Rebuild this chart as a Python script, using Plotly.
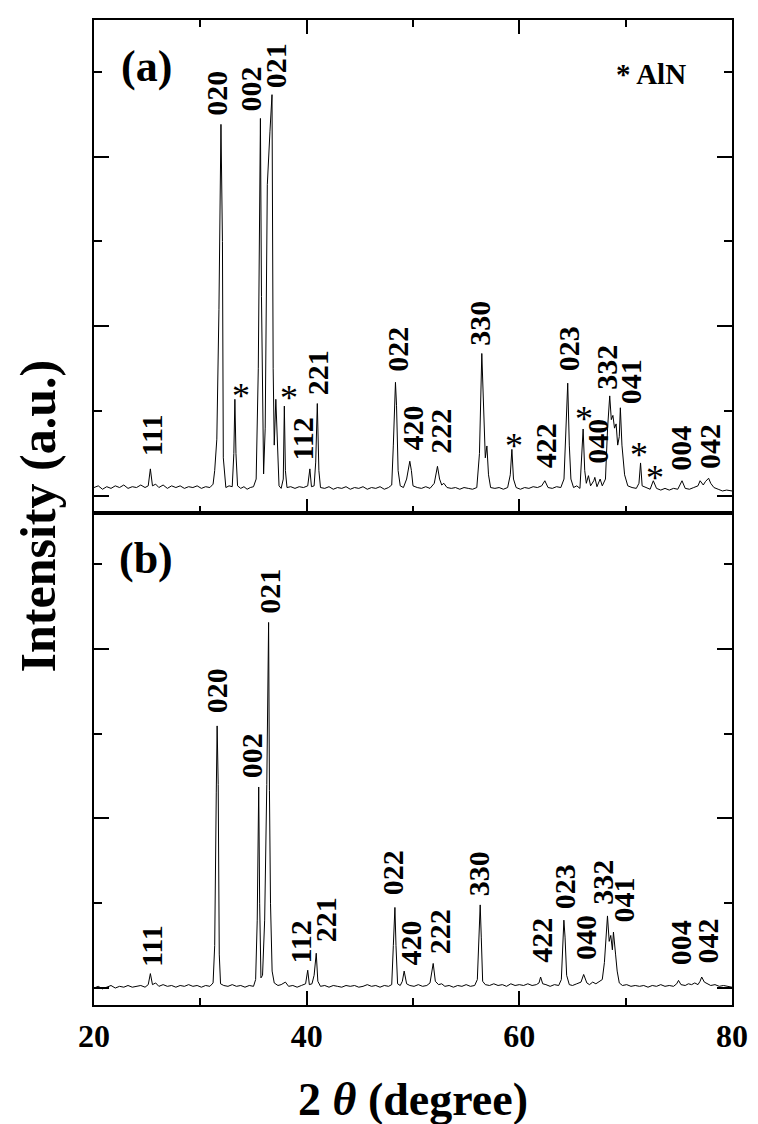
import plotly.graph_objects as go

# ---------------- data ----------------
# Panel (a): 2theta (deg) and intensity (a.u.)
two_theta_a = [20.0, 20.4, 20.8, 21.2, 21.6, 22.0, 22.4, 22.8, 23.2, 23.6, 24.0, 24.4, 24.8, 25.1, 25.3, 25.5,
               25.8, 26.1, 26.5, 26.9, 27.3, 27.7, 28.1, 28.5, 28.9, 29.3, 29.7, 30.1, 30.5, 30.9, 31.2, 31.35,
               31.55, 31.75, 31.94, 32.02, 32.08, 32.16, 32.4, 32.7, 33.0, 33.15, 33.25, 33.35, 33.5, 33.8,
               34.1, 34.4, 34.7, 35.0, 35.25, 35.45, 35.55, 35.65, 35.75, 35.85, 35.95, 36.1, 36.3, 36.55,
               36.74, 36.85, 36.95, 37.1, 37.25, 37.4, 37.6, 37.8, 37.9, 38.0, 38.15, 38.5, 38.9, 39.3, 39.7,
               40.1, 40.3, 40.45, 40.7, 40.85, 41.0, 41.15, 41.3, 41.7, 42.1, 42.5, 42.9, 43.3, 43.7, 44.1,
               44.5, 44.9, 45.3, 45.7, 46.1, 46.5, 46.9, 47.3, 47.7, 48.0, 48.15, 48.35, 48.45, 48.6, 48.8,
               49.1, 49.4, 49.7, 49.85, 50.0, 50.4, 50.8, 51.2, 51.6, 52.0, 52.3, 52.5, 52.7, 52.9, 53.2,
               53.6, 54.0, 54.4, 54.8, 55.2, 55.6, 56.0, 56.25, 56.47, 56.65, 56.8, 56.95, 57.1, 57.3, 57.7,
               58.1, 58.5, 58.9, 59.15, 59.3, 59.45, 59.7, 60.1, 60.5, 60.9, 61.3, 61.7, 62.1, 62.4, 62.7,
               63.1, 63.5, 63.9, 64.2, 64.4, 64.55, 64.7, 64.85, 65.1, 65.4, 65.7, 65.85, 66.0, 66.15, 66.3,
               66.5, 66.7, 67.0, 67.1, 67.3, 67.6, 67.8, 68.1, 68.3, 68.5, 68.65, 68.8, 68.95, 69.1, 69.25,
               69.4, 69.5, 69.65, 69.9, 70.2, 70.6, 71.0, 71.25, 71.4, 71.55, 71.9, 72.3, 72.6, 72.9, 73.3,
               73.7, 74.1, 74.5, 74.9, 75.3, 75.6, 76.0, 76.4, 76.8, 77.0, 77.3, 77.5, 77.8, 78.0, 78.3,
               78.7, 79.1, 79.5, 80.0]
intensity_a = [0.10, 0.12, 0.08, 0.11, 0.09, 0.12, 0.10, 0.13, 0.09, 0.11, 0.10, 0.13, 0.10, 0.12, 0.32, 0.12,
               0.14, 0.10, 0.13, 0.09, 0.12, 0.10, 0.12, 0.09, 0.11, 0.10, 0.12, 0.09, 0.11, 0.10, 0.14, 0.30,
               0.67, 2.20, 4.38, 3.50, 3.00, 0.45, 0.10, 0.12, 0.11, 0.50, 1.14, 0.50, 0.12, 0.09,
               0.11, 0.08, 0.10, 0.11, 0.20, 1.50, 3.30, 4.45, 2.35, 1.00, 0.26, 0.80, 3.67, 4.30,
               4.73, 1.50, 0.60, 1.14, 0.50, 0.12, 0.09, 0.20, 1.06, 0.30, 0.10, 0.11, 0.09, 0.11, 0.10,
               0.12, 0.32, 0.11, 0.12, 0.40, 1.09, 0.30, 0.10, 0.09, 0.11, 0.08, 0.10, 0.09, 0.11, 0.08,
               0.10, 0.09, 0.11, 0.08, 0.10, 0.09, 0.11, 0.08, 0.10, 0.13, 0.60, 1.34, 1.07, 0.30, 0.12,
               0.10, 0.20, 0.41, 0.30, 0.12, 0.10, 0.09, 0.11, 0.09, 0.15, 0.35, 0.20, 0.13, 0.15, 0.10,
               0.09, 0.10, 0.08, 0.10, 0.09, 0.08, 0.10, 0.50, 1.68, 0.92, 0.45, 0.59, 0.25, 0.10, 0.09,
               0.10, 0.08, 0.10, 0.25, 0.55, 0.20, 0.10, 0.08, 0.10, 0.09, 0.11, 0.10, 0.12, 0.18, 0.10,
               0.09, 0.11, 0.10, 0.20, 0.90, 1.33, 0.60, 0.20, 0.10, 0.12, 0.09, 0.40, 0.79, 0.30, 0.15,
               0.24, 0.12, 0.18, 0.22, 0.11, 0.20, 0.12, 0.20, 0.80, 1.18, 0.90, 0.95, 0.80, 0.85, 0.60,
               0.70, 1.04, 0.60, 0.25, 0.12, 0.10, 0.09, 0.15, 0.39, 0.12, 0.10, 0.08, 0.18, 0.09, 0.07,
               0.09, 0.07, 0.09, 0.08, 0.18, 0.09, 0.08, 0.10, 0.12, 0.18, 0.13, 0.17, 0.21, 0.15, 0.10,
               0.08, 0.06, 0.07, 0.06]

# Panel (b)
two_theta_b = [20.0, 20.4, 20.8, 21.2, 21.6, 22.0, 22.4, 22.8, 23.2, 23.6, 24.0, 24.4, 24.8, 25.1, 25.3, 25.5,
               25.8, 26.1, 26.5, 26.9, 27.3, 27.7, 28.1, 28.5, 28.9, 29.3, 29.7, 30.1, 30.5, 30.9, 31.2, 31.35,
               31.5, 31.58, 31.68, 31.78, 31.9, 32.2, 32.6, 33.0, 33.4, 33.8, 34.2, 34.6, 35.0, 35.2, 35.35,
               35.49, 35.58, 35.7, 35.85, 36.05, 36.25, 36.42, 36.5, 36.6, 36.75, 36.95, 37.3, 37.6, 38.0,
               38.3, 38.7, 39.1, 39.5, 39.9, 40.1, 40.25, 40.5, 40.7, 40.9, 41.05, 41.3, 41.7, 42.1, 42.5,
               42.9, 43.3, 43.7, 44.1, 44.5, 44.9, 45.3, 45.7, 46.1, 46.5, 46.9, 47.3, 47.7, 48.0, 48.15,
               48.3, 48.4, 48.55, 48.8, 49.0, 49.17, 49.4, 49.7, 50.1, 50.5, 50.9, 51.3, 51.6, 51.9, 52.1,
               52.4, 52.7, 53.0, 53.4, 53.8, 54.2, 54.6, 55.0, 55.4, 55.8, 56.05, 56.2, 56.32, 56.42, 56.55,
               56.8, 57.2, 57.6, 58.0, 58.4, 58.8, 59.2, 59.6, 60.0, 60.4, 60.8, 61.2, 61.6, 61.85, 62.0,
               62.2, 62.5, 62.9, 63.3, 63.7, 63.95, 64.1, 64.19, 64.3, 64.45, 64.7, 65.0, 65.4, 65.8, 66.05,
               66.35, 66.6, 66.9, 67.2, 67.5, 67.8, 68.0, 68.15, 68.29, 68.45, 68.6, 68.75, 68.85, 69.05,
               69.2, 69.4, 69.7, 70.1, 70.5, 70.9, 71.3, 71.7, 72.1, 72.5, 72.9, 73.3, 73.7, 74.1, 74.5,
               74.8, 74.97, 75.2, 75.6, 75.9, 76.2, 76.5, 76.8, 77.0, 77.15, 77.4, 77.7, 78.0, 78.4, 78.8,
               79.2, 79.6, 80.0]
intensity_b = [0.00, 0.02, -0.01, 0.01, 0.03, 0.00, 0.02, 0.01, 0.03, 0.01, 0.02, 0.03, 0.01, 0.04, 0.17, 0.04,
               0.06, 0.02, 0.04, 0.02, 0.03, 0.01, 0.03, 0.02, 0.04, 0.02, 0.03, 0.01, 0.03, 0.02, 0.06, 0.50,
               2.30, 3.09, 2.40, 0.40, 0.05, 0.03, 0.02, 0.04, 0.02, 0.03, 0.01, 0.03, 0.02, 0.10, 0.80,
               2.37, 1.00, 0.12, 0.15, 0.80, 2.40, 4.31, 2.33, 1.00, 0.20, 0.06, 0.03, 0.04, 0.07,
               0.02, 0.03, 0.01, 0.03, 0.05, 0.21, 0.04, 0.05, 0.15, 0.41, 0.08, 0.02, 0.03, 0.01, 0.03,
               0.02, 0.01, 0.03, 0.02, 0.03, 0.01, 0.02, 0.04, 0.02, 0.03, 0.01, 0.03, 0.02, 0.04, 0.50,
               0.95, 0.50, 0.05, 0.03, 0.08, 0.20, 0.05, 0.03, 0.02, 0.04, 0.02, 0.03, 0.06, 0.29, 0.08,
               0.04, 0.05, 0.02, 0.03, 0.01, 0.03, 0.02, 0.04, 0.02, 0.03, 0.10, 0.60, 0.98, 0.60, 0.08,
               0.04, 0.03, 0.05, 0.03, 0.04, 0.02, 0.05, 0.03, 0.04, 0.03, 0.05, 0.03, 0.04, 0.06, 0.13,
               0.05, 0.04, 0.02, 0.04, 0.03, 0.10, 0.60, 0.80, 0.60, 0.15, 0.04, 0.03, 0.05, 0.07, 0.16,
               0.06, 0.04, 0.07, 0.05, 0.08, 0.10, 0.30, 0.60, 0.85, 0.55, 0.62, 0.45, 0.66, 0.40,
               0.20, 0.06, 0.03, 0.04, 0.02, 0.03, 0.02, 0.03, 0.01, 0.03, 0.02, 0.04, 0.02, 0.03, 0.02,
               0.05, 0.09, 0.04, 0.03, 0.05, 0.04, 0.06, 0.04, 0.08, 0.13, 0.07, 0.05, 0.03, 0.04, 0.02,
               0.03, 0.02, 0.01]

# Peak (hkl) labels
labels_a = ["111", "020", "002", "021", "112", "221", "022", "420", "222", "330", "422", "023", "040",
            "332", "041", "004", "042"]
labels_b = ["111", "020", "002", "021", "112", "221", "022", "420", "222", "330", "422", "023", "040",
            "332", "041", "004", "042"]
# AlN impurity peaks in (a), marked with *
aln_peaks_a = [33.25, 37.9, 59.3, 66.0, 71.4, 72.6]

# ---------------- layout positions for text ----------------
lab_pos_a = [(25.41, 0.71), (31.57, 4.74), (34.74, 4.80), (37.07, 5.07), (39.59, 0.67), (41.08, 1.45),
             (48.54, 1.73), (49.94, 0.80), (52.56, 0.76), (56.29, 2.04), (62.54, 0.59), (64.59, 1.73),
             (67.39, 0.65), (68.13, 1.52), (70.47, 1.35), (75.13, 0.56), (77.93, 0.59)]
lab_pos_b = [(25.41, 0.49), (31.47, 3.51), (34.83, 2.74), (36.42, 4.68), (39.40, 0.54), (41.74, 0.80),
             (48.08, 1.36), (49.76, 0.53), (52.46, 0.66), (56.19, 1.35), (62.07, 0.56), (64.22, 1.19),
             (66.27, 0.59), (67.85, 1.25), (69.81, 1.04), (75.13, 0.53), (77.74, 0.56)]
star_pos_a = [(33.81, 1.18), (38.38, 1.16), (59.46, 0.59), (66.08, 0.91), (71.21, 0.48), (72.80, 0.21)]

FONT = "Liberation Serif"
# the page body has an 8px margin; the figure is sized/offset so the plot lands on the target pixels
OFF = 8
W, H = 758 - OFF, 1124 - OFF
L, R, T = 94 - OFF, 21, 18 - OFF
PW, PH = 643, 987
B = H - T - PH
split = (1005 - 512) / PH

fig = go.Figure()
fig.add_trace(go.Scatter(x=two_theta_a, y=intensity_a, xaxis="x2", yaxis="y2", mode="lines",
                         line=dict(color="black", width=1.0), showlegend=False, hoverinfo="skip"))
fig.add_trace(go.Scatter(x=two_theta_b, y=intensity_b, xaxis="x", yaxis="y", mode="lines",
                         line=dict(color="black", width=1.0), showlegend=False, hoverinfo="skip"))

ann = []
lab_font = dict(family=FONT, size=30, color="black", weight="bold")
for t, (xx, yy) in zip(labels_a, lab_pos_a):
    ann.append(dict(x=xx, y=yy, xref="x2", yref="y2", text=t, textangle=-90, showarrow=False,
                    font=lab_font, xanchor="center", yanchor="middle"))
for t, (xx, yy) in zip(labels_b, lab_pos_b):
    ann.append(dict(x=xx, y=yy, xref="x", yref="y", text=t, textangle=-90, showarrow=False,
                    font=lab_font, xanchor="center", yanchor="middle"))
for (xx, yy) in star_pos_a:
    ann.append(dict(x=xx, y=yy, xref="x2", yref="y2", text="*", showarrow=False,
                    font=dict(family=FONT, size=36, color="black"), xanchor="center", yanchor="middle"))

# convert absolute page pixels to paper coordinates
def px_x(p):
    return (p - 94) / PW

def px_y(p):
    return (1005 - p) / PH

ann.append(dict(x=px_x(147), y=px_y(65), xref="paper", yref="paper", text="(a)", showarrow=False,
                font=dict(family=FONT, size=44, color="black", weight="bold"), xanchor="center", yanchor="middle"))
ann.append(dict(x=px_x(146), y=px_y(558), xref="paper", yref="paper", text="(b)", showarrow=False,
                font=dict(family=FONT, size=44, color="black", weight="bold"), xanchor="center", yanchor="middle"))
ann.append(dict(x=px_x(655), y=px_y(72), xref="paper", yref="paper", text="* AlN", showarrow=False,
                font=dict(family=FONT, size=29, color="black", weight="bold"), xanchor="center", yanchor="middle"))
ann.append(dict(x=px_x(38), y=px_y(515), xref="paper", yref="paper", text="Intensity (a.u.)", textangle=-90,
                showarrow=False, font=dict(family=FONT, size=50, color="black", weight="bold"),
                xanchor="center", yanchor="middle"))
ann.append(dict(x=0.5, y=px_y(1100), xref="paper", yref="paper", text="2 <i>θ</i> (degree)",
                showarrow=False, font=dict(family=FONT, size=46, color="black", weight="bold"),
                xanchor="center", yanchor="middle"))

axis_common = dict(showline=True, linecolor="black", linewidth=2, showgrid=False, zeroline=False,
                   ticks="inside", tickcolor="black", tickwidth=2)

fig.update_layout(
    width=W, height=H, margin=dict(l=L, r=R, t=T, b=B),
    paper_bgcolor="white", plot_bgcolor="white",
    annotations=ann,
    xaxis=dict(**axis_common, domain=[0, 1], anchor="y", range=[20, 80], tick0=20, dtick=20, ticklen=14,
               mirror=True, minor=dict(dtick=10, ticklen=7, tickwidth=2, tickcolor="black", ticks="inside"),
               tickfont=dict(family=FONT, size=32, color="black", weight="bold"), ticklabelstandoff=2),
    xaxis2=dict(**axis_common, domain=[0, 1], anchor="y2", range=[20, 80], tick0=20, dtick=20, ticklen=14,
                mirror="ticks", showticklabels=False,
                minor=dict(dtick=10, ticklen=7, tickwidth=2, tickcolor="black", ticks="inside")),
    yaxis=dict(**axis_common, domain=[0, split], anchor="x", range=[-0.2, 5.6], tick0=0, dtick=2, ticklen=15,
               mirror="ticks", showticklabels=False,
               minor=dict(dtick=1, ticklen=8, tickwidth=2, tickcolor="black", ticks="inside")),
    yaxis2=dict(**axis_common, domain=[split, 1], anchor="x2", range=[-0.2, 5.61], tick0=0, dtick=2, ticklen=15,
                mirror="ticks", showticklabels=False,
                minor=dict(dtick=1, ticklen=8, tickwidth=2, tickcolor="black", ticks="inside")),
)

fig.write_html("out.html")
